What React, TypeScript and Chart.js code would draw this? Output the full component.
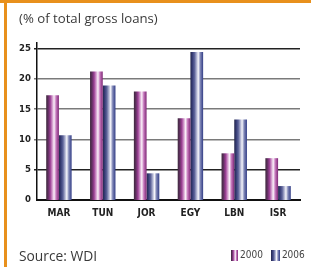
import React, { useEffect, useRef } from "react";
import { Chart, registerables } from "chart.js";

Chart.register(...registerables);

const categories = ["MAR", "TUN", "JOR", "EGY", "LBN", "ISR"];
const series2000 = [17.3, 21.2, 17.9, 13.5, 7.7, 6.9];
const series2006 = [10.7, 18.9, 4.4, 24.4, 13.3, 2.3];
const seriesLabels = ["2000", "2006"];
const yTicks = [0, 5, 10, 15, 20, 25];

const CAT_PCT = 0.58;

const stops2000: [number, string][] = [
  [0, "#3d2a3c"],
  [0.15, "#5e2f5e"],
  [0.32, "#9c3f95"],
  [0.5, "#d9a6d3"],
  [0.62, "#faf2f9"],
  [0.78, "#c476bb"],
  [1, "#7d2775"],
];
const stops2006: [number, string][] = [
  [0, "#23264a"],
  [0.15, "#353b74"],
  [0.32, "#5d6399"],
  [0.5, "#b7bad6"],
  [0.62, "#f6f6fb"],
  [0.78, "#7f86b6"],
  [1, "#323d86"],
];

function cssGradient(stops: [number, string][]) {
  return `linear-gradient(to right, ${stops.map(([p, c]) => `${c} ${p * 100}%`).join(", ")})`;
}

export default function App() {
  const ref = useRef<HTMLCanvasElement>(null);
  useEffect(() => {
    if (!ref.current) return;
    const makeBg = (stops: [number, string][], dsIndex: number) => (ctx: any) => {
      const chart = ctx.chart;
      const xs = chart.scales && chart.scales.x;
      if (!xs || ctx.type !== "data" || !chart.ctx) return stops[2][1];
      const center = xs.getPixelForValue(ctx.dataIndex);
      const catW = xs.width / categories.length;
      const bw = (catW * CAT_PCT) / 2;
      const left = dsIndex === 0 ? center - bw : center;
      if (!Number.isFinite(left) || !Number.isFinite(bw) || bw <= 0) return stops[2][1];
      const g = chart.ctx.createLinearGradient(left, 0, left + bw, 0);
      stops.forEach(([p, c]) => g.addColorStop(p, c));
      return g;
    };
    const chart = new Chart(ref.current, {
      type: "bar",
      data: {
        labels: categories,
        datasets: [
          {
            label: seriesLabels[0],
            data: series2000,
            backgroundColor: makeBg(stops2000, 0),
            borderWidth: 0,
            barPercentage: 1,
            categoryPercentage: CAT_PCT,
          },
          {
            label: seriesLabels[1],
            data: series2006,
            backgroundColor: makeBg(stops2006, 1),
            borderWidth: 0,
            barPercentage: 1,
            categoryPercentage: CAT_PCT,
          },
        ],
      },
      options: {
        animation: false,
        responsive: false,
        maintainAspectRatio: false,
        layout: { padding: { left: 10, right: 11, top: 43, bottom: 47 } },
        plugins: {
          legend: { display: false },
          tooltip: { enabled: false },
          title: { display: false },
        },
        scales: {
          x: {
            grid: { display: false, drawTicks: false },
            border: { display: true, color: "#111", width: 2 },
            ticks: {
              color: "#222",
              font: { family: "DejaVu Sans Condensed", weight: "bold", size: 10 },
              padding: 7,
              maxRotation: 0,
            },
            afterFit: (s: any) => {
              s.height = 20;
            },
          },
          y: {
            min: 0,
            max: 25.9,
            afterBuildTicks: (s: any) => {
              s.ticks = yTicks.map((v) => ({ value: v }));
            },
            grid: {
              color: (c: any) => (c.tick && (c.tick.value === 25 || c.tick.value === 5) ? "#222" : "#7a7a7a"),
              lineWidth: (c: any) => (c.tick && c.tick.value === 0 ? 0 : 1.5),
              drawTicks: true,
              tickLength: 3,
            },
            border: { display: true, color: "#111", width: 1.5 },
            ticks: {
              color: "#222",
              font: { family: "DejaVu Sans Condensed", weight: "bold", size: 9.5 },
              padding: 3,
            },
            afterFit: (s: any) => {
              s.width = 27;
            },
          },
        },
      },
    });
    chart.update();
    return () => chart.destroy();
  }, []);

  const textFont = "'Open Sans', sans-serif";
  return (
    <div style={{ position: "absolute", left: 0, top: 0, width: 311, height: 267, background: "#fff", overflow: "hidden" }}>
      <div style={{ position: "absolute", left: 0, top: 0, width: 311, height: 3, background: "#e8901c" }} />
      <div style={{ position: "absolute", left: 4, top: 0, width: 3, height: 267, background: "#e8901c" }} />
      <canvas ref={ref} width={311} height={267} style={{ position: "absolute", left: 0, top: 0, width: 311, height: 267 }} />
      <div
        style={{
          position: "absolute",
          left: 19,
          top: 10,
          fontFamily: textFont,
          fontSize: 13.2,
          color: "#3a3a3a",
          whiteSpace: "nowrap",
          lineHeight: "17px",
        }}
      >
        (% of total gross loans)
      </div>
      <div
        style={{
          position: "absolute",
          left: 19,
          top: 247,
          fontFamily: textFont,
          fontSize: 13.8,
          color: "#3a3a3a",
          whiteSpace: "nowrap",
          lineHeight: "17px",
        }}
      >
        Source: WDI
      </div>
      <div
        style={{
          position: "absolute",
          left: 231,
          top: 249,
          display: "flex",
          alignItems: "center",
          fontFamily: "'DejaVu Sans Condensed', sans-serif",
          fontSize: 10,
          color: "#444",
          whiteSpace: "nowrap",
          lineHeight: "12px",
        }}
      >
        <span style={{ display: "inline-block", width: 7, height: 11, background: cssGradient(stops2000), marginRight: 2 }} />
        <span>{seriesLabels[0]}</span>
        <span style={{ display: "inline-block", width: 9, height: 11, background: cssGradient(stops2006), marginLeft: 8, marginRight: 2 }} />
        <span>{seriesLabels[1]}</span>
      </div>
    </div>
  );
}
